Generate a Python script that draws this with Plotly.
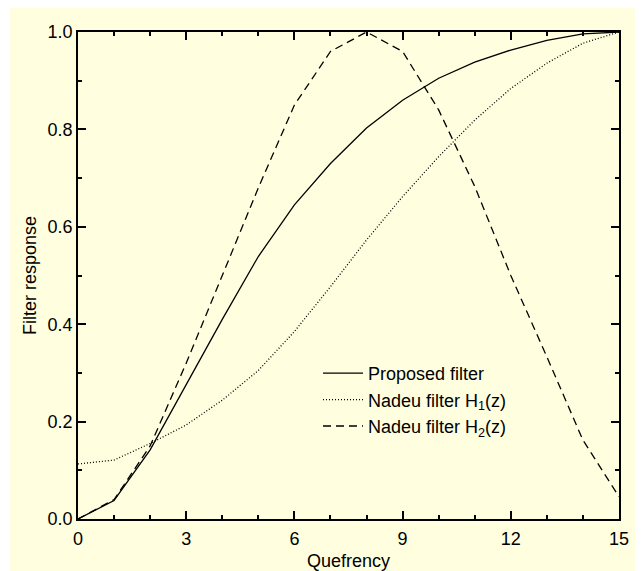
import plotly.graph_objects as go

quefrency = list(range(16))
proposed = [0.0, 0.038, 0.142, 0.276, 0.41, 0.539, 0.645, 0.73, 0.803, 0.86, 0.905, 0.938, 0.963, 0.983, 0.996, 1.0]
nadeu_h1 = [0.113, 0.121, 0.155, 0.193, 0.244, 0.305, 0.385, 0.477, 0.573, 0.662, 0.744, 0.819, 0.884, 0.936, 0.977, 1.0]
nadeu_h2 = [0.0, 0.04, 0.15, 0.32, 0.50, 0.68, 0.85, 0.96, 1.0, 0.96, 0.84, 0.683, 0.50, 0.333, 0.162, 0.046]

x_ticks = [0, 3, 6, 9, 12, 15]
y_ticks = [0.0, 0.2, 0.4, 0.6, 0.8, 1.0]
y_ticklabels = ["0.0", "0.2", "0.4", "0.6", "0.8", "1.0"]

font = "Liberation Sans, Arial, sans-serif"

fig = go.Figure()
fig.add_trace(go.Scatter(x=quefrency, y=proposed, mode="lines", name="Proposed filter",
                         line=dict(color="black", width=1.3, dash="solid")))
fig.add_trace(go.Scatter(x=quefrency, y=nadeu_h1, mode="lines", name="Nadeu filter H<sub>1</sub>(z)",
                         line=dict(color="black", width=1.3, dash="1px,2px")))
fig.add_trace(go.Scatter(x=quefrency, y=nadeu_h2, mode="lines", name="Nadeu filter H<sub>2</sub>(z)",
                         line=dict(color="black", width=1.3, dash="8px,5px")))

# page body has an 8px margin; figure sized to fit the 643x571 window
W, H = 635, 563
L, R, T, B = 70, 24, 24, 52
pw, ph = W - L - R, H - T - B

fig.add_shape(type="rect", xref="paper", yref="paper", layer="below",
              x0=(2 - L) / pw, x1=(W - L) / pw, y0=-B / ph, y1=1 + T / ph,
              fillcolor="#FFFFE0", line=dict(width=0))

axis_common = dict(showgrid=False, zeroline=False, showline=True, linecolor="black", linewidth=1.5,
                   mirror="ticks", ticks="inside", ticklen=8, tickwidth=1.5, tickcolor="black",
                   automargin=False,
                   tickfont=dict(family=font, size=18, color="black"))

fig.update_xaxes(range=[0, 15], tickvals=x_ticks, ticktext=[str(v) for v in x_ticks],
                 ticklabelstandoff=3,
                 title=dict(text="Quefrency", font=dict(family=font, size=18, color="black"), standoff=8),
                 minor=dict(ticks="inside", ticklen=4, tickwidth=1.5, tickcolor="black", dtick=1, showgrid=False),
                 **axis_common)
fig.update_yaxes(range=[0, 1], tickvals=y_ticks, ticktext=y_ticklabels,
                 title=dict(text="Filter response", font=dict(family=font, size=18, color="black"), standoff=6),
                 minor=dict(ticks="inside", ticklen=4, tickwidth=1.5, tickcolor="black", dtick=0.1, showgrid=False),
                 **axis_common)

fig.update_layout(
    width=W, height=H,
    margin=dict(l=L, r=R, t=T, b=B, autoexpand=False),
    paper_bgcolor="white", plot_bgcolor="rgba(0,0,0,0)",
    font=dict(family=font, size=18, color="black"),
    legend=dict(x=(310 - L) / pw, y=(511 - 347) / ph, xanchor="left", yanchor="top",
                bgcolor="rgba(0,0,0,0)", borderwidth=0, tracegroupgap=0,
                font=dict(family=font, size=18, color="black"), itemwidth=40),
)

fig.write_html("out.html")
